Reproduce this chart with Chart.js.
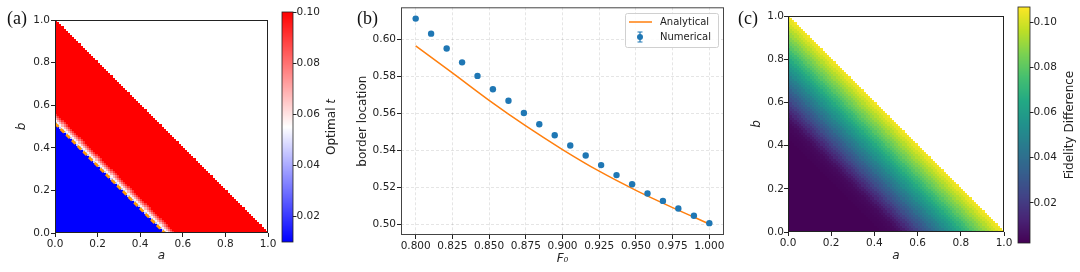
<!DOCTYPE html>
<html lang="en">
<head>
<meta charset="UTF-8">
<title>Optimal t, border location and fidelity difference</title>
<script src="https://cdn.jsdelivr.net/npm/chart.js@4.4.0/dist/chart.umd.min.js"></script>
<style>
  body { margin: 0; background: #fff; }
  #wrap { position: relative; width: 1080px; height: 272px; overflow: hidden; }
  canvas { position: absolute; top: 0; }
  .tag { position: absolute; font-family: "Liberation Serif", serif; font-size: 18px; line-height: 1; color: #111; }
</style>
</head>
<body>
<div id="wrap">
  <canvas id="chartA" width="290" height="272" style="left:0px"></canvas>
  <canvas id="barA" width="80" height="272" style="left:270px"></canvas>
  <canvas id="chartB" width="400" height="272" style="left:340px"></canvas>
  <canvas id="chartC" width="290" height="272" style="left:730px"></canvas>
  <canvas id="barC" width="74" height="272" style="left:1006px"></canvas>
  <div class="tag" style="left:7px;top:9px">(a)</div>
  <div class="tag" style="left:357px;top:9px">(b)</div>
  <div class="tag" style="left:738px;top:9px">(c)</div>
</div>

<script>
// ---------- data ----------
const unitTicks = [0, 0.2, 0.4, 0.6, 0.8, 1.0];
const gridN = 100;      // cells per side in the (a, b) maps
const maxSum = 1.0;     // cells with a + b above this stay empty

// (a) optimal t, as a function of a + b
const tLow = 0.01;                                   // blue region
const tBandSum = [0.52, 0.53, 0.54, 0.55, 0.56, 0.57];
const tBandValue = [0.045, 0.057, 0.068, 0.079, 0.09, 0.1];
const borderAB = 0.515;                              // dashed border, a + b
const tMin = 0.01, tMax = 0.10;
const tBarTicks = [0.02, 0.04, 0.06, 0.08, 0.10];

// (b) border location vs F0
const f0Numerical = [0.8000, 0.8105, 0.8211, 0.8316, 0.8421, 0.8526, 0.8632, 0.8737, 0.8842, 0.8947,
                     0.9053, 0.9158, 0.9263, 0.9368, 0.9474, 0.9579, 0.9684, 0.9789, 0.9895, 1.0000];
const borderNumerical = [0.6111, 0.6030, 0.5950, 0.5875, 0.5802, 0.5730, 0.5668, 0.5602, 0.5541, 0.5482,
                         0.5427, 0.5373, 0.5321, 0.5267, 0.5218, 0.5168, 0.5128, 0.5087, 0.5048, 0.5008];
const f0Analytical = [0.800, 0.825, 0.850, 0.875, 0.900, 0.925, 0.950, 0.975, 1.000];
const borderAnalytical = [0.5964, 0.5818, 0.5670, 0.5532, 0.5405, 0.5288, 0.5185, 0.5092, 0.5004];
const f0Ticks = [0.800, 0.825, 0.850, 0.875, 0.900, 0.925, 0.950, 0.975, 1.000];
const borderTicks = [0.50, 0.52, 0.54, 0.56, 0.58, 0.60];

// (c) fidelity difference, as a function of a + b
const fidLow = 0.0025;
const fidSum = [0.44, 0.46, 0.48, 0.50, 0.52, 0.54, 0.56, 0.58, 0.60, 0.62, 0.64, 0.66, 0.68, 0.70, 0.72,
                0.74, 0.76, 0.78, 0.80, 0.82, 0.84, 0.86, 0.88, 0.90, 0.92, 0.94, 0.96, 0.98, 1.00];
const fidValue = [0.003, 0.0035, 0.004, 0.005, 0.007, 0.010, 0.014, 0.018, 0.022, 0.027, 0.031, 0.035, 0.040, 0.044, 0.048,
                  0.053, 0.057, 0.061, 0.066, 0.070, 0.074, 0.079, 0.083, 0.087, 0.091, 0.095, 0.099, 0.103, 0.106];
const fidMin = 0.0022, fidMax = 0.1068;
const fidBarTicks = [0.02, 0.04, 0.06, 0.08, 0.10];

// ---------- colour maps ----------
const viridisStops = ['#440154', '#482475', '#414487', '#355f8d', '#2a788e', '#21918c',
                      '#22a884', '#44bf70', '#7ad151', '#bddf26', '#fde725'];
function hexRgb(h) { return [1, 3, 5].map(k => parseInt(h.substr(k, 2), 16)); }
const viridisRgb = viridisStops.map(hexRgb);
function viridis(t) {
  t = Math.min(1, Math.max(0, t));
  const p = t * (viridisRgb.length - 1);
  const k = Math.min(viridisRgb.length - 2, Math.floor(p));
  const f = p - k;
  const c = viridisRgb[k].map((v, n) => Math.round(v + (viridisRgb[k + 1][n] - v) * f));
  return `rgb(${c[0]},${c[1]},${c[2]})`;
}
function bwr(t) {
  t = Math.min(1, Math.max(0, t));
  if (t < 0.5) { const g = Math.round(510 * t); return `rgb(${g},${g},255)`; }
  const g = Math.round(510 * (1 - t));
  return `rgb(255,${g},${g})`;
}

function optimalT(s) {
  let v = tLow;
  tBandSum.forEach((e, k) => { if (s >= e - 1e-9) v = tBandValue[k]; });
  return v;
}
function fidelity(s) {
  let v = fidLow;
  fidSum.forEach((e, k) => { if (s >= e - 1e-9) v = fidValue[k]; });
  return v;
}

// ---------- shared pieces ----------
Chart.defaults.font.family = '"DejaVu Sans", sans-serif';
Chart.defaults.font.size = 10.5;
Chart.defaults.color = '#222';

function heatmap(valueAt, cmap, vmin, vmax) {
  return {
    id: 'heatmap',
    beforeDatasetsDraw(chart) {
      const {ctx, scales: {x, y}} = chart;
      ctx.save();
      for (let i = 0; i < gridN; i++) {
        const x0 = Math.round(x.getPixelForValue(i / gridN));
        const x1 = Math.round(x.getPixelForValue((i + 1) / gridN));
        for (let j = 0; j < gridN; j++) {
          const s = (i + j + 1) / gridN;
          if (s > maxSum + 1e-9) continue;
          const y0 = Math.round(y.getPixelForValue(j / gridN));
          const y1 = Math.round(y.getPixelForValue((j + 1) / gridN));
          ctx.fillStyle = cmap((valueAt(s) - vmin) / (vmax - vmin));
          ctx.fillRect(x0, y1, x1 - x0, y0 - y1);
        }
      }
      ctx.restore();
    }
  };
}

function frame(color) {
  return {
    id: 'frame',
    afterDatasetsDraw(chart) {
      const {ctx, chartArea: a} = chart;
      ctx.save();
      ctx.strokeStyle = color;
      ctx.lineWidth = 1;
      ctx.strokeRect(a.left + 0.5, a.top + 0.5, a.right - a.left - 1, a.bottom - a.top - 1);
      ctx.restore();
    }
  };
}

function unitAxis(size, title, titlePad, tickPad) {
  return {
    type: 'linear', min: 0, max: 1,
    afterBuildTicks: s => { s.ticks = unitTicks.map(v => ({value: v})); },
    afterFit: s => { if (s.isHorizontal()) s.height = size; else s.width = size; },
    ticks: { callback: v => Number(v).toFixed(1), padding: tickPad, autoSkip: false, maxRotation: 0 },
    grid: { drawOnChartArea: false, drawTicks: true, tickLength: 4, color: '#222' },
    border: { display: false },
    title: { display: true, text: title, font: { style: 'italic', size: 12 }, padding: titlePad }
  };
}

function colorbar(canvasId, cmap, vmin, vmax, tickList, pad, axisWidth, titleX, titleParts) {
  new Chart(document.getElementById(canvasId), {
    type: 'scatter',
    data: { datasets: [] },
    options: {
      responsive: false, animation: false,
      layout: { padding: pad },
      plugins: { legend: { display: false }, tooltip: { enabled: false } },
      scales: {
        x: { display: false, min: 0, max: 1 },
        y: {
          position: 'right', min: vmin, max: vmax,
          afterBuildTicks: s => { s.ticks = tickList.map(v => ({value: v})); },
          afterFit: s => { s.width = axisWidth; },
          ticks: { callback: v => Number(v).toFixed(2), padding: 0, autoSkip: false },
          grid: { drawOnChartArea: false, drawTicks: true, tickLength: 3.5, color: '#222' },
          border: { display: false }
        }
      }
    },
    plugins: [{
      id: 'bar',
      beforeDatasetsDraw(chart) {
        const {ctx, chartArea: a, scales: {y}} = chart;
        ctx.save();
        for (let py = Math.floor(a.top); py < a.bottom; py++) {
          const v = y.getValueForPixel(py + 0.5);
          ctx.fillStyle = cmap((v - vmin) / (vmax - vmin));
          ctx.fillRect(a.left, py, a.right - a.left, 1);
        }
        ctx.strokeStyle = '#222';
        ctx.lineWidth = 0.8;
        ctx.strokeRect(a.left, a.top, a.right - a.left, a.bottom - a.top);
        ctx.restore();
      },
      afterDraw(chart) {
        const {ctx, chartArea: a} = chart;
        ctx.save();
        ctx.translate(titleX, (a.top + a.bottom) / 2);
        ctx.rotate(-Math.PI / 2);
        ctx.fillStyle = '#222';
        ctx.textBaseline = 'middle';
        ctx.textAlign = 'left';
        const fonts = titleParts.map(p => (p.italic ? 'italic ' : '') + '12px "DejaVu Sans"');
        const widths = titleParts.map((p, k) => { ctx.font = fonts[k]; return ctx.measureText(p.text).width; });
        let cx = -widths.reduce((s, w) => s + w, 0) / 2;
        titleParts.forEach((p, k) => { ctx.font = fonts[k]; ctx.fillText(p.text, cx, 0); cx += widths[k]; });
        ctx.restore();
      }
    }]
  });
}

// ---------- (a) ----------
new Chart(document.getElementById('chartA'), {
  type: 'scatter',
  data: {
    datasets: [{
      data: [{x: 0, y: borderAB}, {x: borderAB, y: 0}],
      showLine: true, borderColor: '#ff9a00', borderWidth: 2.6, borderDash: [5, 3],
      pointRadius: 0, fill: false
    }]
  },
  options: {
    responsive: false, animation: false,
    layout: { padding: { left: 0, top: 20, right: 22, bottom: 0 } },
    plugins: { legend: { display: false }, tooltip: { enabled: false } },
    scales: {
      x: unitAxis(39, 'a', { top: 0, bottom: 9 }, 0.5),
      y: unitAxis(55, 'b', { top: 15, bottom: 0 }, 1)
    }
  },
  plugins: [heatmap(optimalT, bwr, tMin, tMax), frame('#222')]
});

colorbar('barA', bwr, tMin, tMax, tBarTicks, { left: 12, top: 12, right: 0, bottom: 30 }, 57, 62,
         [{ text: 'Optimal ', italic: false }, { text: 't', italic: true }]);

// ---------- (b) ----------
const legendB = {
  id: 'legendB',
  afterDraw(chart) {
    const ctx = chart.ctx;
    const ox = 285, oy = 13;
    ctx.save();
    ctx.fillStyle = 'rgba(255,255,255,0.85)';
    ctx.strokeStyle = '#d0d0d0';
    ctx.lineWidth = 1;
    ctx.beginPath();
    ctx.roundRect(ox + 0.5, oy + 0.5, 93, 34, 2);
    ctx.fill();
    ctx.stroke();
    ctx.strokeStyle = '#ff7f0e';
    ctx.lineWidth = 1.5;
    ctx.beginPath();
    ctx.moveTo(ox + 4, oy + 9); ctx.lineTo(ox + 27, oy + 9);
    ctx.stroke();
    const mx = ox + 15, my = oy + 24;
    ctx.strokeStyle = '#1f77b4';
    ctx.lineWidth = 1.2;
    ctx.beginPath();
    ctx.moveTo(mx, my - 5); ctx.lineTo(mx, my + 5);
    ctx.moveTo(mx - 2.5, my - 5); ctx.lineTo(mx + 2.5, my - 5);
    ctx.moveTo(mx - 2.5, my + 5); ctx.lineTo(mx + 2.5, my + 5);
    ctx.stroke();
    ctx.fillStyle = '#1f77b4';
    ctx.beginPath();
    ctx.arc(mx, my, 3, 0, Math.PI * 2);
    ctx.fill();
    ctx.fillStyle = '#222';
    ctx.font = '10px "DejaVu Sans"';
    ctx.textBaseline = 'middle';
    ctx.textAlign = 'left';
    ctx.fillText(chart.data.datasets[1].label, ox + 35, oy + 9);
    ctx.fillText(chart.data.datasets[0].label, ox + 35, oy + 24);
    ctx.restore();
  }
};

new Chart(document.getElementById('chartB'), {
  type: 'scatter',
  data: {
    datasets: [
      {
        label: 'Numerical',
        data: f0Numerical.map((f, k) => ({x: f, y: borderNumerical[k]})),
        backgroundColor: '#1f77b4', borderColor: '#1f77b4', pointRadius: 3.2, borderWidth: 0, order: 0
      },
      {
        label: 'Analytical',
        data: f0Analytical.map((f, k) => ({x: f, y: borderAnalytical[k]})),
        showLine: true, borderColor: '#ff7f0e', borderWidth: 1.5, pointRadius: 0,
        cubicInterpolationMode: 'monotone', order: 1
      }
    ]
  },
  options: {
    responsive: false, animation: false,
    layout: { padding: { left: 0, top: 7, right: 16, bottom: 0 } },
    plugins: { legend: { display: false }, tooltip: { enabled: false } },
    scales: {
      x: {
        min: 0.79, max: 1.01,
        afterBuildTicks: s => { s.ticks = f0Ticks.map(v => ({value: v})); },
        afterFit: s => { s.height = 37; },
        ticks: { callback: v => Number(v).toFixed(3), padding: 0.5, autoSkip: false, maxRotation: 0 },
        grid: { color: 'rgba(0,0,0,0.13)', lineWidth: 0.8, tickColor: '#222', tickLength: 4, tickWidth: 1 },
        border: { display: false, dash: [3, 2] },
        title: { display: true, text: 'F₀', font: { style: 'italic', size: 12 }, padding: { top: 0, bottom: 6 } }
      },
      y: {
        min: 0.4944, max: 0.6172,
        afterBuildTicks: s => { s.ticks = borderTicks.map(v => ({value: v})); },
        afterFit: s => { s.width = 61; },
        ticks: { callback: v => Number(v).toFixed(2), padding: 1, autoSkip: false },
        grid: { color: 'rgba(0,0,0,0.13)', lineWidth: 0.8, tickColor: '#222', tickLength: 4, tickWidth: 1 },
        border: { display: false, dash: [3, 2] },
        title: { display: true, text: 'border location', font: { size: 12 }, padding: { top: 16, bottom: 0 } }
      }
    }
  },
  plugins: [frame('#444'), legendB]
});

// ---------- (c) ----------
new Chart(document.getElementById('chartC'), {
  type: 'scatter',
  data: { datasets: [] },
  options: {
    responsive: false, animation: false,
    layout: { padding: { left: 0, top: 16, right: 16, bottom: 0 } },
    plugins: { legend: { display: false }, tooltip: { enabled: false } },
    scales: {
      x: unitAxis(40, 'a', { top: 0, bottom: 9 }, 0.5),
      y: unitAxis(58, 'b', { top: 20, bottom: 0 }, 0)
    }
  },
  plugins: [heatmap(fidelity, viridis, fidMin, fidMax), frame('#222')]
});

colorbar('barC', viridis, fidMin, fidMax, fidBarTicks, { left: 12, top: 7, right: 0, bottom: 29 }, 50, 64,
         [{ text: 'Fidelity Difference', italic: false }]);
</script>
</body>
</html>
